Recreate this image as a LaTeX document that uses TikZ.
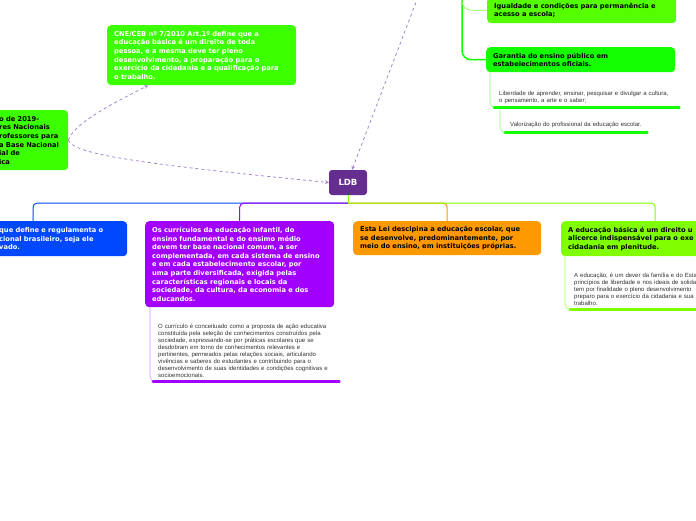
\documentclass[tikz,border=0pt]{standalone}
\usepackage{fontspec}
\setmainfont{DejaVu Sans}
\newfontfamily\notefont{Liberation Sans}
\definecolor{ldbpurple}{RGB}{102,45,145}
\definecolor{brblue}{RGB}{0,72,255}
\definecolor{brpurple}{RGB}{161,0,255}
\definecolor{brorange}{RGB}{255,153,0}
\definecolor{brlime}{RGB}{128,255,0}
\definecolor{cnegreen}{RGB}{60,255,0}
\definecolor{iggreen}{RGB}{85,255,0}
\definecolor{gargreen}{RGB}{20,255,0}
\definecolor{dashlav}{RGB}{155,120,200}
\definecolor{notegray}{RGB}{51,51,51}
\begin{document}
\begin{tikzpicture}[x=1pt,y=-1pt,
    box/.style={rectangle,rounded corners=4pt,anchor=north west,align=left,inner xsep=7pt,inner ysep=3pt,font=\bfseries\fontsize{6.7}{8.6}\selectfont},
    note/.style={rectangle,anchor=north west,align=left,inner xsep=5pt,inner ysep=2pt,text=notegray,font=\notefont\fontsize{6}{7}\selectfont},
    link/.style={->,>=stealth,dashed,dashlav,line width=0.7pt},
    bus/.style={rounded corners=4pt,line width=1pt},
    twig/.style={rounded corners=5pt,line width=0.6pt},
    uline/.style={line width=2.6pt,line cap=round}]
    \useasboundingbox (0,0) rectangle (696,520);
    \fill[white] (0,0) rectangle (696,520);

    % root
    \node (ldb) [fill=ldbpurple,rounded corners=3pt,minimum width=38pt,minimum height=25pt,text=white,font=\bfseries\fontsize{8.5}{10}\selectfont] at (348,182.5) {LDB};
    \coordinate (hub) at ([yshift=-8pt]ldb.south);

    % upper nodes
    \node (cne) [box,fill=cnegreen,text=white,text width=175pt,minimum height=60pt] at (107,25) {CNE/CEB nº 7/2010 Art.1º define que a\\educação básica é um direito de toda\\pessoa, e a mesma deve ter pleno\\desenvolvimento, a preparação para o\\exercício da cidadania e a qualificação para\\o trabalho.};
    \node (res) [box,fill=cnegreen,text width=62pt,minimum height=60pt] at (-8,110) {o de 2019-\\res Nacionais\\rofessores para\\a Base Nacional\\ial de\\ica};
    \node (iguald) [box,fill=iggreen,text width=175pt,minimum height=26pt] at (487,-3) {Igualdade e condições para permanência e\\acesso a escola;};
    \node (garant) [box,fill=gargreen,text width=175pt,minimum height=25pt] at (486,47) {Garantia do ensino público em\\estabelecimentos oficiais.};
    \node (liber) [note,inner xsep=5pt,text width=175pt,minimum height=19pt] at (494,88) {Liberdade de aprender, ensinar, pesquisar e divulgar a cultura,\\o pensamento, a arte e o saber;};
    \node (valor) [note,text width=132pt,minimum height=14pt] at (505,118) {Valorização do profissional da educação escolar.};

    % lower nodes
    \node (lei) [box,fill=brblue,text=white,text width=121pt,minimum height=35pt] at (-8,221) {que define e regulamenta o\\cional brasileiro, seja ele\\vado.};
    \node (curr) [box,fill=brpurple,text=white,text width=175pt,minimum height=86pt] at (145,221) {Os currículos da educação infantil, do\\ensino fundamental e do ensimo médio\\devem ter base nacional comum, a ser\\complementada, em cada sistema de ensino\\e em cada estabelecimento escolar, por\\uma parte diversificada, exigida pelas\\características regionais e locais da\\sociedade, da cultura, da economia e dos\\educandos.};
    \node (esta) [box,fill=brorange,text width=174pt,minimum height=34pt] at (353,221) {Esta Lei descipina a educação escolar, que\\se desenvolve, predominantemente, por\\meio do ensino, em instituições próprias.};
    \node (basica) [box,fill=brlime,text width=174pt,minimum height=35pt] at (561,221) {A educação básica é um direito u\\alicerce indispensável para o exe\\cidadania em plenitude.};
    \node (currnote) [note,text width=176pt,minimum height=61pt] at (153,320) {O currículo é conceituado como a proposta de ação educativa\\constituída pela seleção de conhecimentos construídos pela\\sociedade, expressando-se por práticas escolares que se\\desdobram em torno de conhecimentos relevantes e\\pertinentes, permeados pelas relações sociais, articulando\\vivências e saberes do estudantes e contribuindo para o\\desenvolvimento de suas identidades e condições cognitivas e\\socioemocionais.};
    \node (basnote) [note,inner xsep=4pt,text width=200pt,minimum height=39pt] at (570,270) {A educação, é um dever da família e do Esta\\princípios de liberdade e nos ideais de solida\\tem por finalidade o pleno desenvolvimento\\preparo para o exercício da cidadania e sua\\trabalho.};

    % branches from the root
    \draw [bus,brblue] (hub) -| ([xshift=41pt]lei.north west);
    \draw [bus,brpurple] (hub) -| (curr.north);
    \draw [bus,brorange] (hub) -| (esta.north);
    \draw [bus,brlime] (hub) -| (basica.north);
    \draw [line width=1pt,brlime] (ldb.south) -- (hub);

    % green tree at the top
    \coordinate (treetop) at (462,-3);
    \draw [line width=1.5pt,gargreen,rounded corners=9pt] (treetop) |- (garant.west);
    \draw [line width=0.7pt,iggreen!70,rounded corners=9pt] (treetop) |- (iguald.west);

    % notes
    \draw [twig,gargreen!50] ([xshift=4pt]garant.south west) |- (liber.south west);
    \draw [twig,gargreen!50] ([xshift=6pt]liber.south west) |- (valor.south west);
    \draw [twig,brpurple!45] ([xshift=5pt]curr.south west) |- (currnote.south west);
    \draw [twig,brlime!70] ([xshift=4pt]basica.south west) |- (basnote.south west);
    \draw [uline,gargreen] (liber.south west) -- (liber.south east);
    \draw [uline,gargreen] (valor.south west) -- (valor.south east);
    \draw [uline,brpurple] (currnote.south west) -- (currnote.south east);
    \draw [uline,brlime] (basnote.south west) -- (basnote.south east);

    % dashed links
    \coordinate (offtop) at (418,-3);
    \draw [link] (offtop) -- ([xshift=4pt]ldb.north);
    \draw [link] (res.east) .. controls (74,122) and (120,100) .. ([xshift=41pt]cne.south west);
    \draw [link] (res.east) .. controls (74,153) and (120,162) .. (ldb.west);
\end{tikzpicture}
\end{document}
